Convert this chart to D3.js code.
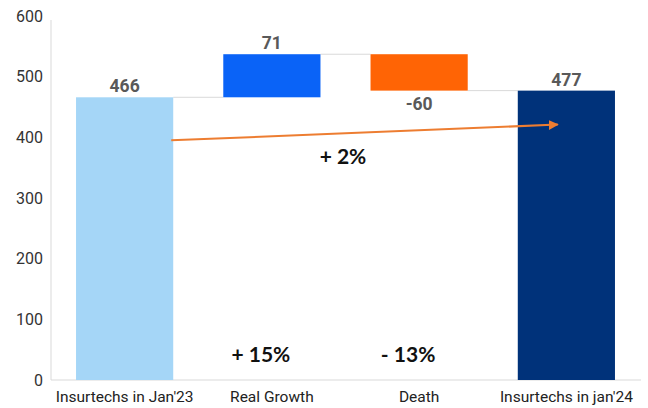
<!DOCTYPE html>
<html><head><meta charset="utf-8">
<script src="https://cdn.jsdelivr.net/npm/d3@7"></script>
<style>body{margin:0;background:#fff;} svg{display:block;}</style>
</head><body>
<svg id="chart" width="648" height="408"></svg>
<script>
const categories = ["Insurtechs in Jan'23", "Real Growth", "Death", "Insurtechs in jan'24"];
const deltas = [466, 71, -60, 477];
const kinds = ["total", "delta", "delta", "total"];
const valueLabels = ["466", "71", "-60", "477"];
const colors = ["#A5D6F7", "#0A63F7", "#FF6405", "#00327A"];
const yTicks = [0, 100, 200, 300, 400, 500, 600];
const pctLabels = [{cat: 1, text: "+ 15%", v: 39}, {cat: 2, text: "- 13%", v: 39}];
const growthLabel = "+ 2%";
const arrowFrom = {cat: 0, v: 395};
const arrowTo = {cat: 3, v: 421};

const svg = d3.select("#chart");
const margin = {left: 51, right: 8, top: 16, bottom: 28};
const W = 648, H = 408;
const x = d3.scaleBand().domain(categories).range([margin.left, W - margin.right]).paddingInner(0.34).paddingOuter(0.17);
const y = d3.scaleLinear().domain([0, 600]).range([380, 16]);

let running = 0;
const segs = categories.map((c, i) => {
  let y0, y1;
  if (kinds[i] === "total") { y0 = 0; y1 = deltas[i]; running = deltas[i]; }
  else { y0 = running; y1 = running + deltas[i]; running = y1; }
  return {c, i, y0, y1, lo: Math.min(y0, y1), hi: Math.max(y0, y1)};
});

svg.append("line").attr("x1", margin.left).attr("x2", margin.left).attr("y1", 20).attr("y2", y(0))
  .attr("stroke", "#d9d9d9").attr("stroke-width", 1);
svg.append("line").attr("x1", margin.left).attr("x2", 641).attr("y1", y(0)).attr("y2", y(0))
  .attr("stroke", "#d9d9d9").attr("stroke-width", 1);

const yAxis = d3.axisLeft(y).tickValues(yTicks).tickSize(0).tickPadding(8);
const gy = svg.append("g").attr("transform", `translate(${margin.left},0)`).call(yAxis);
gy.select(".domain").remove();
gy.selectAll("text").attr("font-family", "Roboto, sans-serif").attr("font-size", 16).attr("fill", "#333");

const xAxis = d3.axisBottom(x).tickSize(0).tickPadding(11);
const gx = svg.append("g").attr("transform", `translate(0,${y(0)})`).call(xAxis);
gx.select(".domain").remove();
gx.selectAll("text").attr("font-family", "Roboto, sans-serif").attr("font-size", 15.5).attr("fill", "#222");

for (let i = 0; i < segs.length - 1; i++) {
  const s = segs[i], n = segs[i + 1];
  svg.append("line")
    .attr("x1", x(s.c) + x.bandwidth()).attr("x2", x(n.c))
    .attr("y1", y(s.y1)).attr("y2", y(s.y1))
    .attr("stroke", "#d9d9d9").attr("stroke-width", 1);
}

svg.selectAll("rect.bar").data(segs).enter().append("rect")
  .attr("class", "bar")
  .attr("x", d => x(d.c)).attr("width", x.bandwidth())
  .attr("y", d => y(d.hi)).attr("height", d => y(d.lo) - y(d.hi))
  .attr("fill", (d, i) => colors[i]);

svg.selectAll("text.val").data(segs).enter().append("text")
  .attr("class", "val")
  .attr("x", d => x(d.c) + x.bandwidth() / 2)
  .attr("y", d => (d.y1 < d.y0) ? y(d.lo) + 19 : y(d.hi) - 5)
  .attr("text-anchor", "middle")
  .attr("font-family", "Roboto, sans-serif").attr("font-weight", "bold").attr("font-size", 17.5)
  .attr("fill", "#595959")
  .text((d, i) => valueLabels[i]);

const defs = svg.append("defs");
defs.append("marker").attr("id", "ah").attr("viewBox", "0 0 10 10").attr("refX", 9).attr("refY", 5)
  .attr("markerWidth", 5).attr("markerHeight", 5).attr("orient", "auto")
  .append("path").attr("d", "M0,0 L10,5 L0,10 z").attr("fill", "#ED7D31");
svg.append("line")
  .attr("x1", x(categories[arrowFrom.cat]) + x.bandwidth() - 2).attr("y1", y(arrowFrom.v))
  .attr("x2", x(categories[arrowTo.cat]) + 40).attr("y2", y(arrowTo.v))
  .attr("stroke", "#ED7D31").attr("stroke-width", 2).attr("marker-end", "url(#ah)");

const pctFont = "Lato, 'Open Sans', sans-serif";
svg.append("text").attr("x", 343).attr("y", 164).attr("text-anchor", "middle")
  .attr("font-family", pctFont).attr("font-weight", "bold").attr("font-size", 21).attr("fill", "#111")
  .text(growthLabel);
svg.selectAll("text.pct").data(pctLabels).enter().append("text")
  .attr("class", "pct")
  .attr("x", d => x(categories[d.cat]) + x.bandwidth() / 2 - 11)
  .attr("y", d => y(d.v) + 6)
  .attr("text-anchor", "middle")
  .attr("font-family", pctFont).attr("font-weight", "bold").attr("font-size", 21).attr("fill", "#111")
  .text(d => d.text);
</script>
</body></html>
